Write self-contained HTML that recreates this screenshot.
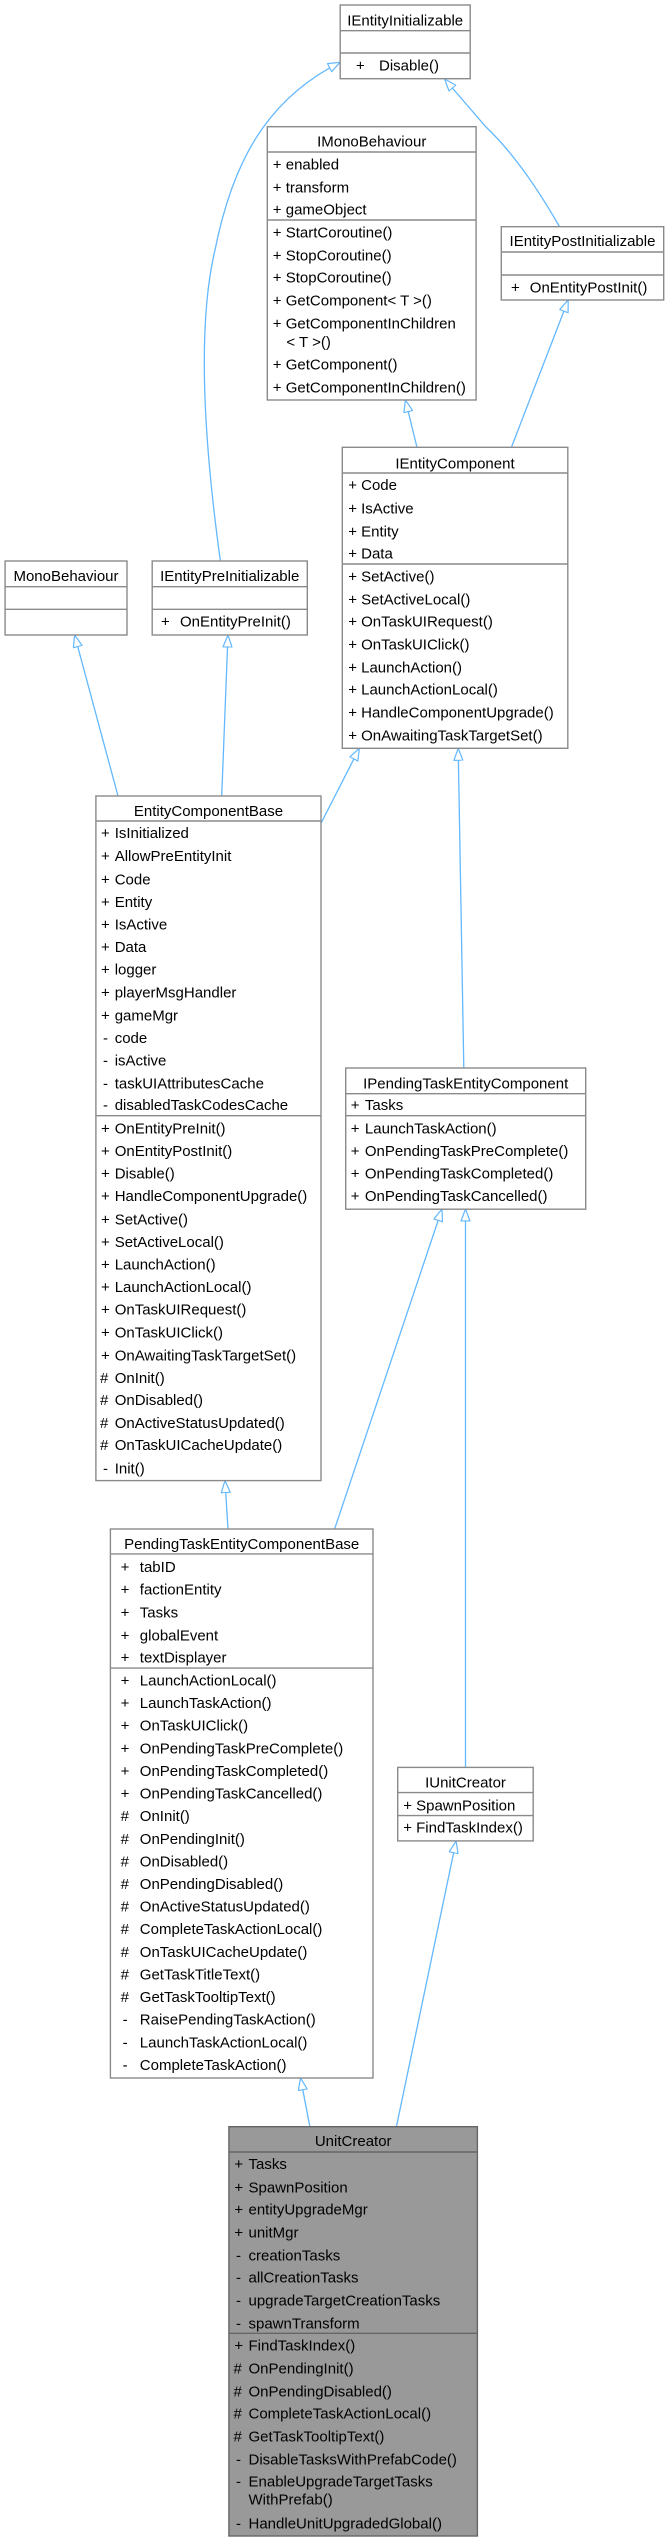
<!DOCTYPE html>
<html><head><meta charset="utf-8"><style>
html,body{margin:0;padding:0;background:#fff;}
svg{display:block;}
text{font-family:"Liberation Sans",Arial,sans-serif;font-size:15px;fill:#000;}
.t{text-anchor:middle;}
.b{fill:#fff;stroke:#8a8a8a;stroke-width:1.4;}
.l{stroke:#8a8a8a;stroke-width:1.4;}
.e{fill:none;stroke:#63b8ff;stroke-width:1.3;}
</style></head><body>
<svg width="665" height="2541" viewBox="0 0 665 2541" xmlns="http://www.w3.org/2000/svg">
<defs>
<marker id="a" viewBox="0 0 13 10" refX="12.5" refY="5" markerWidth="13" markerHeight="10" markerUnits="userSpaceOnUse" orient="auto">
<path d="M0.5,0.5 L12.5,5 L0.5,9.5 z" fill="#fff" stroke="#63b8ff" stroke-width="1.2"/>
</marker>
</defs>

<!-- edges -->
<path class="e" marker-end="url(#a)" d="M220.4,561 C205,450 196,330 215,250 C232,165 265,100 340.2,62.3"/>
<path class="e" marker-end="url(#a)" d="M559.7,227 C530,175 505,145 486,127 L444.6,79"/>
<path class="e" marker-end="url(#a)" d="M416.9,447 L405.4,400"/>
<path class="e" marker-end="url(#a)" d="M511.5,447 L568.2,300"/>
<path class="e" marker-end="url(#a)" d="M118,796 L74.6,635"/>
<path class="e" marker-end="url(#a)" d="M221.7,796 L228,635"/>
<path class="e" marker-end="url(#a)" d="M321,823.3 L359.3,748.3"/>
<path class="e" marker-end="url(#a)" d="M463.8,1068 L458.2,748.3"/>
<path class="e" marker-end="url(#a)" d="M228,1529 L225,1480.6"/>
<path class="e" marker-end="url(#a)" d="M334.6,1529 L442,1209"/>
<path class="e" marker-end="url(#a)" d="M465.5,1767.4 L465.5,1209"/>
<path class="e" marker-end="url(#a)" d="M309.9,2126.7 L300.5,2078"/>
<path class="e" marker-end="url(#a)" d="M396.4,2126.7 L456.1,1841"/>

<!-- IEntityInitializable -->
<rect class="b" x="340.2" y="5" width="130" height="73.7"/>
<line class="l" x1="340.2" y1="30.7" x2="470.2" y2="30.7"/>
<line class="l" x1="340.2" y1="53" x2="470.2" y2="53"/>
<text class="t" x="405.2" y="25.7">IEntityInitializable</text>
<text x="356" y="70.7">+</text><text x="379" y="70.7">Disable()</text>

<!-- IMonoBehaviour -->
<rect class="b" x="267.3" y="126.7" width="208.8" height="273.3"/>
<line class="l" x1="267.3" y1="152" x2="476.1" y2="152"/>
<line class="l" x1="267.3" y1="220" x2="476.1" y2="220"/>
<text class="t" x="371.7" y="146.7">IMonoBehaviour</text>
<text x="272.8" y="169.7">+ enabled</text>
<text x="272.8" y="192.3">+ transform</text>
<text x="272.8" y="214.3">+ gameObject</text>
<text x="272.8" y="237.3">+ StartCoroutine()</text>
<text x="272.8" y="260.3">+ StopCoroutine()</text>
<text x="272.8" y="282.3">+ StopCoroutine()</text>
<text x="272.8" y="305.3">+ GetComponent&lt; T &gt;()</text>
<text x="272.8" y="328.3">+ GetComponentInChildren</text>
<text x="286.4" y="347">&lt; T &gt;()</text>
<text x="272.8" y="369.7">+ GetComponent()</text>
<text x="272.8" y="392.3">+ GetComponentInChildren()</text>

<!-- IEntityPostInitializable -->
<rect class="b" x="501.3" y="226.7" width="162.4" height="73.3"/>
<line class="l" x1="501.3" y1="252" x2="663.7" y2="252"/>
<line class="l" x1="501.3" y1="275" x2="663.7" y2="275"/>
<text class="t" x="582.5" y="246">IEntityPostInitializable</text>
<text x="511" y="292.7">+</text><text x="529.8" y="292.7">OnEntityPostInit()</text>

<!-- IEntityComponent -->
<rect class="b" x="342.3" y="447.3" width="225.5" height="301"/>
<line class="l" x1="342.3" y1="473" x2="567.8" y2="473"/>
<line class="l" x1="342.3" y1="564" x2="567.8" y2="564"/>
<text class="t" x="455" y="468.3">IEntityComponent</text>
<text x="348.2" y="490">+ Code</text>
<text x="348.2" y="513.3">+ IsActive</text>
<text x="348.2" y="536.7">+ Entity</text>
<text x="348.2" y="558.3">+ Data</text>
<text x="348.2" y="581.3">+ SetActive()</text>
<text x="348.2" y="604.3">+ SetActiveLocal()</text>
<text x="348.2" y="626.7">+ OnTaskUIRequest()</text>
<text x="348.2" y="649.3">+ OnTaskUIClick()</text>
<text x="348.2" y="672.3">+ LaunchAction()</text>
<text x="348.2" y="694.7">+ LaunchActionLocal()</text>
<text x="348.2" y="717.7">+ HandleComponentUpgrade()</text>
<text x="348.2" y="740.3">+ OnAwaitingTaskTargetSet()</text>

<!-- MonoBehaviour -->
<rect class="b" x="5.1" y="561" width="121.9" height="74"/>
<line class="l" x1="5.1" y1="586.7" x2="127" y2="586.7"/>
<line class="l" x1="5.1" y1="609.3" x2="127" y2="609.3"/>
<text class="t" x="66" y="581">MonoBehaviour</text>

<!-- IEntityPreInitializable -->
<rect class="b" x="152.2" y="561" width="155.1" height="74"/>
<line class="l" x1="152.2" y1="586.7" x2="307.3" y2="586.7"/>
<line class="l" x1="152.2" y1="609.3" x2="307.3" y2="609.3"/>
<text class="t" x="229.7" y="581">IEntityPreInitializable</text>
<text x="161" y="626.7">+</text><text x="180" y="626.7">OnEntityPreInit()</text>

<!-- EntityComponentBase -->
<rect class="b" x="95.9" y="796" width="225.1" height="684.6"/>
<line class="l" x1="95.9" y1="821" x2="321" y2="821"/>
<line class="l" x1="95.9" y1="1115.7" x2="321" y2="1115.7"/>
<text class="t" x="208.5" y="816">EntityComponentBase</text>
<text x="101" y="838">+</text><text x="114.7" y="838">IsInitialized</text>
<text x="101" y="861">+</text><text x="114.7" y="861">AllowPreEntityInit</text>
<text x="101" y="884.4">+</text><text x="114.7" y="884.4">Code</text>
<text x="101" y="906.8">+</text><text x="114.7" y="906.8">Entity</text>
<text x="101" y="929.7">+</text><text x="114.7" y="929.7">IsActive</text>
<text x="101" y="952">+</text><text x="114.7" y="952">Data</text>
<text x="101" y="974.6">+</text><text x="114.7" y="974.6">logger</text>
<text x="101" y="997.4">+</text><text x="114.7" y="997.4">playerMsgHandler</text>
<text x="101" y="1020.3">+</text><text x="114.7" y="1020.3">gameMgr</text>
<text x="103" y="1042.8">-</text><text x="114.7" y="1042.8">code</text>
<text x="103" y="1065.6">-</text><text x="114.7" y="1065.6">isActive</text>
<text x="103" y="1088.5">-</text><text x="114.7" y="1088.5">taskUIAttributesCache</text>
<text x="103" y="1110.1">-</text><text x="114.7" y="1110.1">disabledTaskCodesCache</text>
<text x="101" y="1133.4">+</text><text x="114.7" y="1133.4">OnEntityPreInit()</text>
<text x="101" y="1156.2">+</text><text x="114.7" y="1156.2">OnEntityPostInit()</text>
<text x="101" y="1178.3">+</text><text x="114.7" y="1178.3">Disable()</text>
<text x="101" y="1201.1">+</text><text x="114.7" y="1201.1">HandleComponentUpgrade()</text>
<text x="101" y="1224.4">+</text><text x="114.7" y="1224.4">SetActive()</text>
<text x="101" y="1246.8">+</text><text x="114.7" y="1246.8">SetActiveLocal()</text>
<text x="101" y="1269.3">+</text><text x="114.7" y="1269.3">LaunchAction()</text>
<text x="101" y="1292.1">+</text><text x="114.7" y="1292.1">LaunchActionLocal()</text>
<text x="101" y="1314.6">+</text><text x="114.7" y="1314.6">OnTaskUIRequest()</text>
<text x="101" y="1337.4">+</text><text x="114.7" y="1337.4">OnTaskUIClick()</text>
<text x="101" y="1360.3">+</text><text x="114.7" y="1360.3">OnAwaitingTaskTargetSet()</text>
<text x="100" y="1382.8">#</text><text x="114.7" y="1382.8">OnInit()</text>
<text x="100" y="1405.2">#</text><text x="114.7" y="1405.2">OnDisabled()</text>
<text x="100" y="1428">#</text><text x="114.7" y="1428">OnActiveStatusUpdated()</text>
<text x="100" y="1450.1">#</text><text x="114.7" y="1450.1">OnTaskUICacheUpdate()</text>
<text x="103" y="1473.4">-</text><text x="114.7" y="1473.4">Init()</text>

<!-- IPendingTaskEntityComponent -->
<rect class="b" x="345.7" y="1068" width="240" height="141.2"/>
<line class="l" x1="345.7" y1="1093.7" x2="585.7" y2="1093.7"/>
<line class="l" x1="345.7" y1="1115.7" x2="585.7" y2="1115.7"/>
<text class="t" x="465.7" y="1088.5">IPendingTaskEntityComponent</text>
<text x="350.8" y="1110.1">+</text><text x="364.9" y="1110.1">Tasks</text>
<text x="350.8" y="1133.4">+</text><text x="364.9" y="1133.4">LaunchTaskAction()</text>
<text x="350.8" y="1156.2">+</text><text x="364.9" y="1156.2">OnPendingTaskPreComplete()</text>
<text x="350.8" y="1178.3">+</text><text x="364.9" y="1178.3">OnPendingTaskCompleted()</text>
<text x="350.8" y="1201.1">+</text><text x="364.9" y="1201.1">OnPendingTaskCancelled()</text>

<!-- PendingTaskEntityComponentBase -->
<rect class="b" x="110.4" y="1529" width="262.6" height="549"/>
<line class="l" x1="110.4" y1="1553.9" x2="373" y2="1553.9"/>
<line class="l" x1="110.4" y1="1668.1" x2="373" y2="1668.1"/>
<text class="t" x="241.7" y="1549">PendingTaskEntityComponentBase</text>
<text x="120.6" y="1572">+</text><text x="139.8" y="1572">tabID</text>
<text x="120.6" y="1594.5">+</text><text x="139.8" y="1594.5">factionEntity</text>
<text x="120.6" y="1617.4">+</text><text x="139.8" y="1617.4">Tasks</text>
<text x="120.6" y="1640.3">+</text><text x="139.8" y="1640.3">globalEvent</text>
<text x="120.6" y="1662.5">+</text><text x="139.8" y="1662.5">textDisplayer</text>
<text x="120.6" y="1685.4">+</text><text x="139.8" y="1685.4">LaunchActionLocal()</text>
<text x="120.6" y="1708">+</text><text x="139.8" y="1708">LaunchTaskAction()</text>
<text x="120.6" y="1730.6">+</text><text x="139.8" y="1730.6">OnTaskUIClick()</text>
<text x="120.6" y="1753.3">+</text><text x="139.8" y="1753.3">OnPendingTaskPreComplete()</text>
<text x="120.6" y="1775.9">+</text><text x="139.8" y="1775.9">OnPendingTaskCompleted()</text>
<text x="120.6" y="1798.5">+</text><text x="139.8" y="1798.5">OnPendingTaskCancelled()</text>
<text x="120.6" y="1821.1">#</text><text x="139.8" y="1821.1">OnInit()</text>
<text x="120.6" y="1843.8">#</text><text x="139.8" y="1843.8">OnPendingInit()</text>
<text x="120.6" y="1866.4">#</text><text x="139.8" y="1866.4">OnDisabled()</text>
<text x="120.6" y="1889">#</text><text x="139.8" y="1889">OnPendingDisabled()</text>
<text x="120.6" y="1911.6">#</text><text x="139.8" y="1911.6">OnActiveStatusUpdated()</text>
<text x="120.6" y="1934.2">#</text><text x="139.8" y="1934.2">CompleteTaskActionLocal()</text>
<text x="120.6" y="1956.9">#</text><text x="139.8" y="1956.9">OnTaskUICacheUpdate()</text>
<text x="120.6" y="1979.5">#</text><text x="139.8" y="1979.5">GetTaskTitleText()</text>
<text x="120.6" y="2002.1">#</text><text x="139.8" y="2002.1">GetTaskTooltipText()</text>
<text x="122.6" y="2024.7">-</text><text x="139.8" y="2024.7">RaisePendingTaskAction()</text>
<text x="122.6" y="2047.4">-</text><text x="139.8" y="2047.4">LaunchTaskActionLocal()</text>
<text x="122.6" y="2070">-</text><text x="139.8" y="2070">CompleteTaskAction()</text>

<!-- IUnitCreator -->
<rect class="b" x="397.7" y="1767.4" width="135.5" height="73.5"/>
<line class="l" x1="397.7" y1="1792.6" x2="533.2" y2="1792.6"/>
<line class="l" x1="397.7" y1="1815.6" x2="533.2" y2="1815.6"/>
<text class="t" x="465.5" y="1787.4">IUnitCreator</text>
<text x="403.2" y="1810.3">+ SpawnPosition</text>
<text x="403.2" y="1832.4">+ FindTaskIndex()</text>

<!-- UnitCreator -->
<rect x="228.9" y="2126.7" width="248.5" height="409.3" fill="#999999" stroke="#666666" stroke-width="1.4"/>
<line x1="228.9" y1="2152" x2="477.4" y2="2152" stroke="#666666" stroke-width="1.4"/>
<line x1="228.9" y1="2333.3" x2="477.4" y2="2333.3" stroke="#666666" stroke-width="1.4"/>
<text class="t" x="353.2" y="2146">UnitCreator</text>
<text x="234.4" y="2169">+</text><text x="248.5" y="2169">Tasks</text>
<text x="234.4" y="2192.3">+</text><text x="248.5" y="2192.3">SpawnPosition</text>
<text x="234.4" y="2214.3">+</text><text x="248.5" y="2214.3">entityUpgradeMgr</text>
<text x="234.4" y="2237.7">+</text><text x="248.5" y="2237.7">unitMgr</text>
<text x="236" y="2260.3">-</text><text x="248.5" y="2260.3">creationTasks</text>
<text x="236" y="2282.3">-</text><text x="248.5" y="2282.3">allCreationTasks</text>
<text x="236" y="2305.7">-</text><text x="248.5" y="2305.7">upgradeTargetCreationTasks</text>
<text x="236" y="2328.3">-</text><text x="248.5" y="2328.3">spawnTransform</text>
<text x="234.4" y="2350.7">+</text><text x="248.5" y="2350.7">FindTaskIndex()</text>
<text x="233.5" y="2373.3">#</text><text x="248.5" y="2373.3">OnPendingInit()</text>
<text x="233.5" y="2396.3">#</text><text x="248.5" y="2396.3">OnPendingDisabled()</text>
<text x="233.5" y="2418.3">#</text><text x="248.5" y="2418.3">CompleteTaskActionLocal()</text>
<text x="233.5" y="2441.7">#</text><text x="248.5" y="2441.7">GetTaskTooltipText()</text>
<text x="236" y="2464.3">-</text><text x="248.5" y="2464.3">DisableTasksWithPrefabCode()</text>
<text x="236" y="2486.7">-</text><text x="248.5" y="2486.7">EnableUpgradeTargetTasks</text>
<text x="248.5" y="2504.3">WithPrefab()</text>
<text x="236" y="2528.3">-</text><text x="248.5" y="2528.3">HandleUnitUpgradedGlobal()</text>
</svg>
</body></html>
